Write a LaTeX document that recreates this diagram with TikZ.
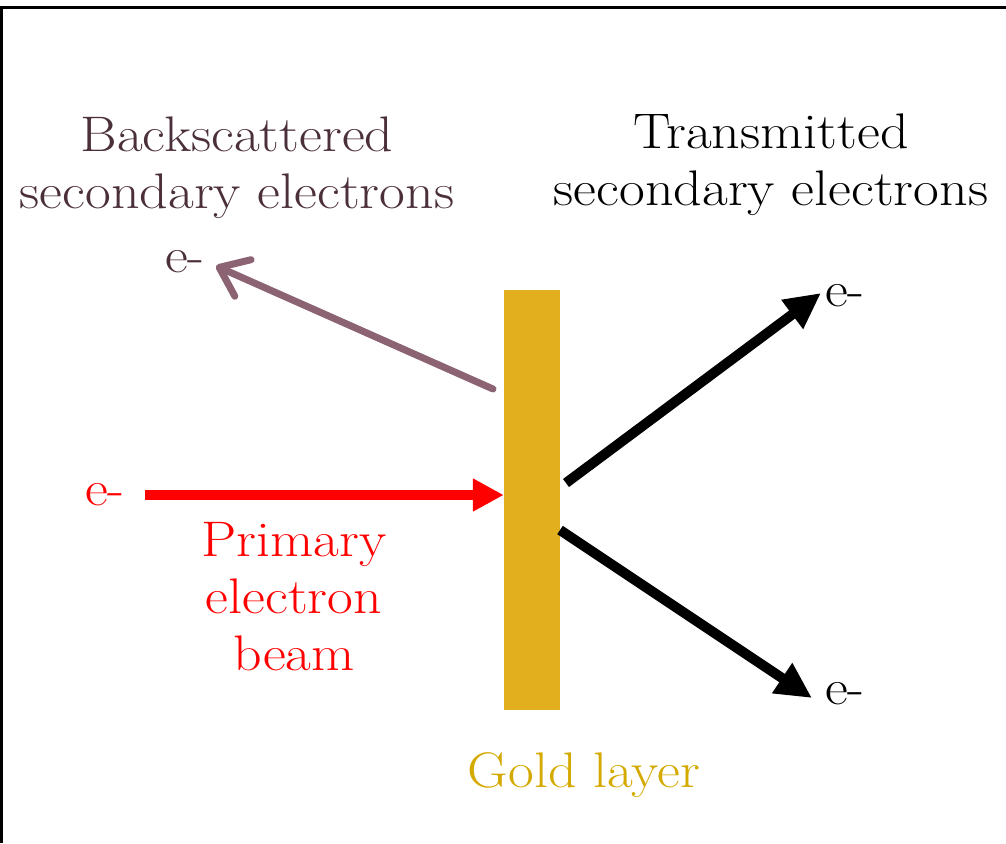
\documentclass[tikz,border=0pt]{standalone}
\usepackage{fontspec}
\setmainfont{Latin Modern Roman}[FakeStretch=1.12]
\usetikzlibrary{arrows.meta}

\definecolor{goldfill}{HTML}{E2AF1F}
\definecolor{goldtext}{HTML}{D4A900}
\definecolor{beamred}{HTML}{FF0000}
\definecolor{backtext}{HTML}{4B2F3B}
\definecolor{backarrow}{HTML}{8B6372}

\tikzset{
  lbl/.style={inner sep=0pt, align=center, font=\fontsize{50}{57}\selectfont},
  beamarrow/.style={draw=beamred, line width=10pt,
    -{Triangle[length=31pt,width=31pt]}},
  backarrowstyle/.style={draw=backarrow, line width=7pt, line cap=round,
    -{Straight Barb[length=26pt,width=40pt,round]}},
  transarrow/.style={draw=black, line width=10pt,
    -{Triangle[length=36pt,width=34pt]}},
}

\begin{document}
\begin{tikzpicture}[x=1pt,y=-1pt]
  \useasboundingbox (0,0) rectangle (1006,843);

  % frame on top and left
  \draw[line width=2.5pt] (1.25,843) -- (1.25,7.5) -- (1006,7.5);

  % gold foil
  \node[fill=goldfill, minimum width=56pt, minimum height=420pt, inner sep=0pt] (gold) at (532,500) {};
  \node[lbl, text=goldtext] (goldlbl) at (584,775) {Gold layer};

  % primary beam
  \node[lbl, text=beamred] (eprim) at (105,495) {e-};
  \coordinate (pstart) at (145,495);
  \draw[beamarrow] (pstart) -- (gold.west |- pstart);
  \node[lbl, text=beamred] (primlbl) at (294,597) {Primary\\electron\\beam};

  % backscattered electrons
  \node[lbl, text=backtext] (backlbl) at (237,168) {Backscattered\\secondary electrons};
  \node[lbl, text=backtext] (eback) at (185,262) {e-};
  \coordinate (bstart) at (493,389);
  \coordinate (bend) at (216,266);
  \draw[backarrowstyle] (bstart) -- (bend);

  % transmitted electrons
  \node[lbl] (translbl) at (771,165) {Transmitted\\secondary electrons};
  \node[lbl] (eup) at (845,296) {e-};
  \node[lbl] (edown) at (845,694) {e-};
  \coordinate (ustart) at (566,483);
  \coordinate (uend) at (821,293);
  \coordinate (dstart) at (560,530);
  \coordinate (dend) at (812,698);
  \draw[transarrow] (ustart) -- (uend);
  \draw[transarrow] (dstart) -- (dend);
\end{tikzpicture}
\end{document}
